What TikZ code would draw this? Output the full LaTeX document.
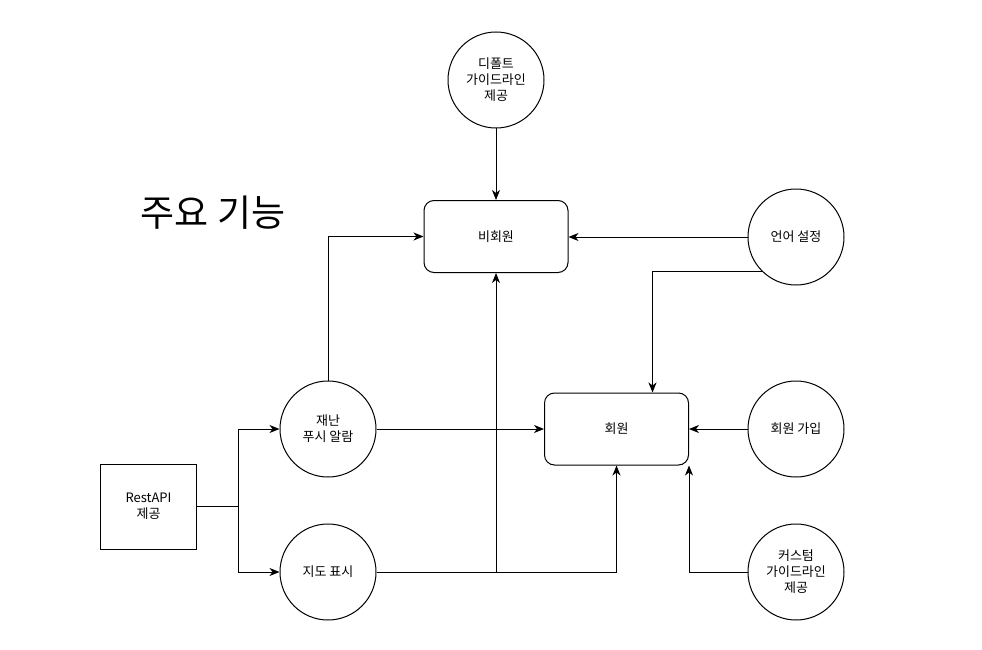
\documentclass[tikz,border=0pt]{standalone}
\usepackage{fontspec}
\setmainfont{Noto Sans CJK KR}
\usetikzlibrary{arrows.meta}
\begin{document}
\begin{tikzpicture}[x=1pt,y=-1pt,
  every node/.style={font=\fontsize{13pt}{16pt}\selectfont, align=center},
  circ/.style={draw, circle, line width=1pt, minimum size=96pt, inner sep=0pt},
  rbox/.style={draw, rounded corners=10pt, line width=1pt, minimum width=144pt, minimum height=72pt, inner sep=0pt},
  sbox/.style={draw, line width=1pt, minimum width=96pt, minimum height=85pt, inner sep=0pt},
  conn/.style={line width=1pt, -{Stealth[length=10pt,width=8pt,inset=3pt]}},
  plain/.style={line width=1pt}]
\fill[white] (0,0) rectangle (982,650);
\useasboundingbox (0,0) rectangle (982,650);

\node[circ] (dflt) at (496,80) {디폴트\\가이드라인\\제공};
\node[rbox] (nonmem) at (496,236.5) {비회원};
\node[font=\fontsize{37pt}{40pt}\selectfont] (title) at (213,213) {주요 기능};
\node[circ] (lang) at (796,237) {언어 설정};
\node[rbox] (mem) at (616.5,429) {회원};
\node[circ] (join) at (796,429) {회원 가입};
\node[circ] (alarm) at (328,429) {재난\\푸시 알람};
\node[sbox] (rest) at (148.5,506.5) {RestAPI\\제공};
\node[circ] (map) at (328,572) {지도 표시};
\node[circ] (custom) at (796,572) {커스텀\\가이드라인\\제공};

\coordinate (br) at (238,506.5);

\draw[conn] (dflt) -- (nonmem);
\draw[conn] (lang.west) -- (lang.west -| nonmem.east);
\draw[conn] (lang.south west) -| ([xshift=36pt]mem.north);
\draw[conn] (alarm.north) |- (nonmem.west);
\draw[conn] (alarm.east) -- (alarm.east -| mem.west);
\draw[conn] (join.west) -- (join.west -| mem.east);
\draw[plain] (rest.east) -- (br);
\draw[conn] (br) |- (alarm.west);
\draw[conn] (br) |- (map.west);
\draw[conn] (map.east) -| (nonmem.south);
\draw[conn] (map.east) -| (mem.south);
\draw[conn] (custom.west) -| (mem.south east);
\end{tikzpicture}
\end{document}
